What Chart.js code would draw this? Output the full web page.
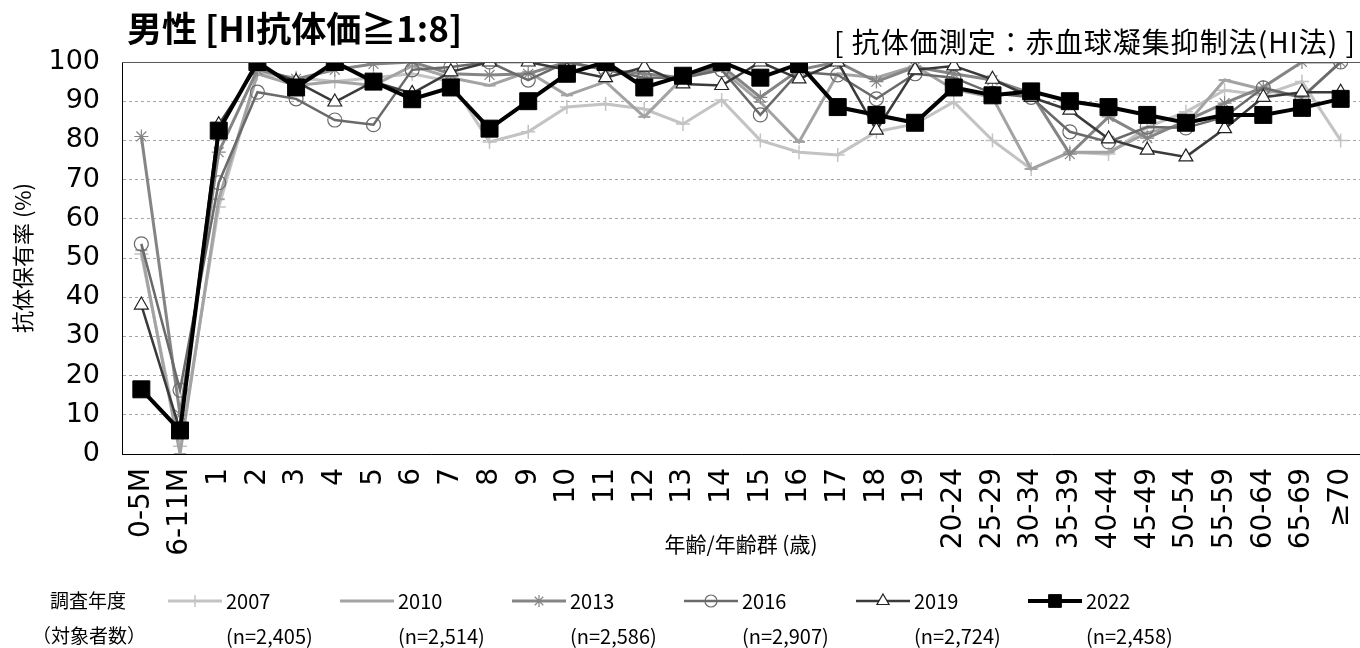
<!DOCTYPE html>
<html>
<head>
<meta charset="utf-8">
<script src="https://cdn.jsdelivr.net/npm/chart.js@4.4.1/dist/chart.umd.min.js"></script>
<style>
  html, body { margin: 0; padding: 0; background: #fff; }
</style>
</head>
<body>
<canvas id="chart" width="1360" height="648"></canvas>
<script>
// age groups on the x axis
const ageGroups = ['0-5M', '6-11M', '1', '2', '3', '4', '5', '6', '7', '8', '9', '10',
  '11', '12', '13', '14', '15', '16', '17', '18', '19', '20-24', '25-29', '30-34',
  '35-39', '40-44', '45-49', '50-54', '55-59', '60-64', '65-69', '≥70'];

const years = ['2007', '2010', '2013', '2016', '2019', '2022'];
const sampleSizes = ['(n=2,405)', '(n=2,514)', '(n=2,586)', '(n=2,907)', '(n=2,724)', '(n=2,458)'];
const yTicks = [0, 10, 20, 30, 40, 50, 60, 70, 80, 90, 100];

// seroprevalence (%) per survey year
const s2007 = [51, 2, 63, 97, 96, 95, 96, 97, 95, 79.6, 82.2, 88.5, 89.3, 88, 84.2, 90.3,
  80, 77, 76.3, 82.2, 84.2, 89.8, 80, 72.7, 77, 76.5, 83.4, 87.3, 92.8, 91.6, 95, 80];
const s2010 = [52, 0, 65, 97, 94, 95, 94, 99, 96, 94, 97.5, 91.5, 95, 86, 96, 98,
  89.8, 79.6, 97, 96, 99, 93, 91, 72.7, 77, 77, 82, 84, 95.4, 93, 91, 100];
const s2013 = [81, 10, 77, 98, 95.7, 98, 99.5, 100, 97, 96.7, 97, 100, 98, 97, 96, 99,
  91, 98, 100, 95, 98.7, 97, 95.4, 92, 76.5, 86, 80.6, 85, 89.5, 93.6, 100, 100];
const s2016 = [53.6, 16.3, 69.2, 92.3, 90.6, 85.2, 84, 98, 98.7, 100, 95.4, 100, 98, 96, 96, 98,
  86.5, 97.5, 96.7, 90.6, 97, 96, 92, 91, 82.2, 79.6, 83.4, 83.2, 86, 93.4, 91, 100];
const s2019 = [38, 6, 84, 99, 95, 89.8, 95, 92, 97.5, 100, 100, 98, 96, 98.7, 94.4, 94,
  100, 95.7, 100, 82.6, 98, 99, 95.6, 91, 87.7, 80.4, 77.5, 75.8, 83, 91, 92.3, 92.3];
const s2022 = [16.5, 6, 82.5, 100, 93.5, 100, 95, 90.5, 93.5, 83, 90, 97, 100, 93.5, 96.5, 100,
  96, 99.5, 88.5, 86.5, 84.5, 93.5, 91.5, 92.5, 90, 88.5, 86.5, 84.5, 86.5, 86.5, 88.3, 90.6];

const seriesValues = [s2007, s2010, s2013, s2016, s2019, s2022];

const styles = [
  { color: '#c3c3c3', width: 3, point: 'cross', radius: 7, pointBorder: 1.5, fill: 'rgba(0,0,0,0)' },
  { color: '#a3a3a3', width: 3, point: 'line', radius: 6, pointBorder: 2, fill: 'rgba(0,0,0,0)' },
  { color: '#858585', width: 3, point: 'star', radius: 7, pointBorder: 1.2, fill: 'rgba(0,0,0,0)' },
  { color: '#6a6a6a', width: 2.5, point: 'circle', radius: 7, pointBorder: 1.2, fill: 'rgba(0,0,0,0)' },
  { color: '#3a3a3a', width: 2.5, point: 'triangle', radius: 8, pointBorder: 1.2, fill: '#ffffff' },
  { color: '#000000', width: 4, point: 'rect', radius: 12, pointBorder: 1, fill: '#000000' }
];

const numFont = '"DejaVu Sans", sans-serif';
const jpFont = '"Noto Sans CJK JP", "DejaVu Sans", sans-serif';

const datasets = years.map((y, i) => ({
  label: y,
  data: seriesValues[i],
  borderColor: styles[i].color,
  backgroundColor: styles[i].color,
  borderWidth: styles[i].width,
  pointStyle: styles[i].point,
  pointRadius: styles[i].radius,
  pointBorderWidth: styles[i].pointBorder,
  pointBorderColor: i === 4 ? '#222' : styles[i].color,
  pointBackgroundColor: styles[i].fill,
  tension: 0,
  order: years.length - 1 - i
}));

// title, method note and bottom legend
const textPlugin = {
  id: 'texts',
  afterDraw(chart) {
    const ctx = chart.ctx;
    const area = chart.chartArea;
    ctx.save();
    ctx.fillStyle = '#000';
    ctx.textBaseline = 'middle';
    ctx.textAlign = 'left';
    ctx.font = 'bold 35px ' + jpFont;
    ctx.fillText('男性 [HI抗体価≧1:8]', 127, 29);
    ctx.textAlign = 'right';
    ctx.font = '28px ' + jpFont;
    ctx.letterSpacing = '1px';
    ctx.fillText('[ 抗体価測定：赤血球凝集抑制法(HI法) ]', 1356, 42);
    ctx.letterSpacing = '0px';

    ctx.font = '19px ' + jpFont;
    ctx.fillText('調査年度', 126, 601);
    ctx.fillText('（対象者数）', 146, 636);

    ctx.textAlign = 'left';
    years.forEach((y, i) => {
      const x0 = 168 + 172 * i;
      const st = styles[i];
      ctx.strokeStyle = st.color;
      ctx.lineWidth = st.width;
      ctx.beginPath();
      ctx.moveTo(x0, 601);
      ctx.lineTo(x0 + 54, 601);
      ctx.stroke();
      ctx.fillStyle = i === 4 ? '#fff' : st.fill;
      ctx.strokeStyle = i === 4 ? '#222' : st.color;
      ctx.lineWidth = st.pointBorder;
      Chart.helpers.drawPoint(ctx, {
        pointStyle: st.point,
        radius: i === 5 ? 9 : st.radius - 1,
        rotation: 0,
        borderWidth: st.pointBorder
      }, x0 + 27, 601);
      ctx.fillStyle = '#000';
      ctx.font = '20px ' + jpFont;
      ctx.fillText(y, x0 + 58, 601);
      ctx.fillText(sampleSizes[i], x0 + 58, 636);
    });

    // top frame line at 100
    ctx.strokeStyle = '#595959';
    ctx.lineWidth = 1;
    ctx.beginPath();
    ctx.moveTo(area.left, area.top + 0.5);
    ctx.lineTo(area.right, area.top + 0.5);
    ctx.stroke();
    ctx.restore();
  }
};

new Chart(document.getElementById('chart'), {
  type: 'line',
  data: { labels: ageGroups, datasets: datasets },
  options: {
    responsive: false,
    animation: false,
    devicePixelRatio: 1,
    layout: { autoPadding: false, padding: { top: 62, right: 0, bottom: 88, left: 0 } },
    plugins: {
      legend: { display: false },
      tooltip: { enabled: false }
    },
    scales: {
      x: {
        type: 'category',
        offset: true,
        grid: { display: false, drawTicks: false },
        border: { display: true, color: '#000', width: 1 },
        ticks: {
          autoSkip: false,
          maxRotation: 90,
          minRotation: 90,
          padding: 14,
          color: '#000',
          font: { family: numFont, size: 28 }
        },
        title: {
          display: true,
          text: '年齢/年齢群 (歳)',
          color: '#000',
          font: { family: jpFont, size: 21 },
          padding: { top: 0, bottom: 3 }
        },
        afterFit(scale) {
          scale.height = 106;
          scale.paddingLeft = 0;
          scale.paddingRight = 0;
        }
      },
      y: {
        min: 0,
        max: 100,
        afterBuildTicks(scale) { scale.ticks = yTicks.map(v => ({ value: v })); },
        grid: {
          drawTicks: false,
          color: ctx => (ctx.tick && ctx.tick.value === 100) ? '#595959' : '#a6a6a6',
          lineWidth: 1
        },
        border: {
          display: true,
          color: '#000',
          width: 1,
          dash: ctx => (ctx.tick && ctx.tick.value !== 100) ? [3, 3] : []
        },
        ticks: {
          padding: 22,
          color: '#000',
          font: { family: numFont, size: 27 }
        },
        title: {
          display: true,
          text: '抗体保有率 (%)',
          color: '#000',
          font: { family: jpFont, size: 22 },
          padding: { top: 9, bottom: 0 }
        },
        afterFit(scale) { scale.width = 122; }
      }
    }
  },
  plugins: [textPlugin]
});
</script>
</body>
</html>
